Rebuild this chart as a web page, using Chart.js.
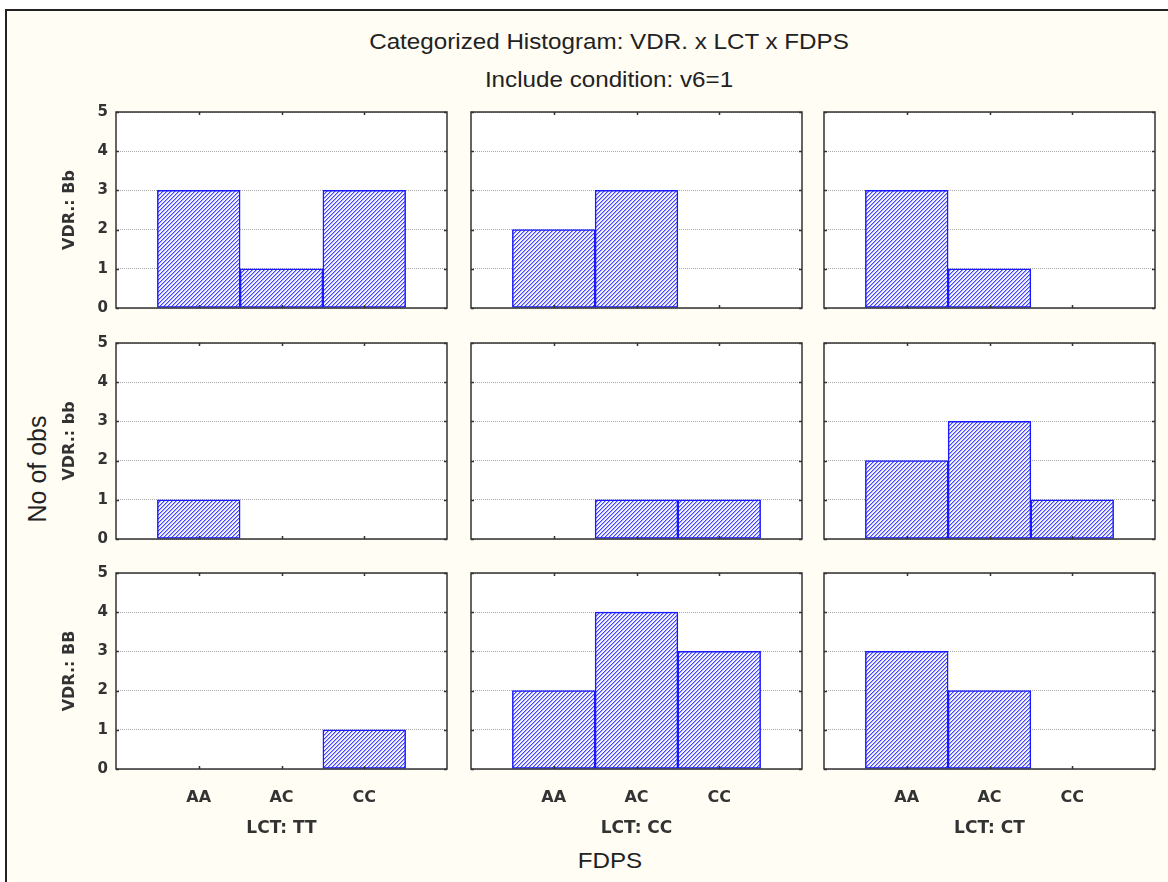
<!DOCTYPE html>
<html lang="en">
<head>
<meta charset="UTF-8">
<title>Categorized Histogram: VDR. x LCT x FDPS</title>
<script src="https://cdn.jsdelivr.net/npm/chart.js"></script>
<style>
  body { margin: 0; width: 1168px; height: 882px; overflow: hidden; position: relative; background: #fff;
         font-family: "Liberation Sans", Arial, sans-serif; }
  #frame { position: absolute; left: 5px; top: 9px; width: 1200px; height: 900px; background: #fffdf4;
           border-left: 2px solid #222; border-top: 2px solid #222; }
  canvas { position: absolute; }
  .txt { position: absolute; color: #222; white-space: nowrap; transform: translate(-50%, -50%) scaleX(1.1); }
</style>
</head>
<body>
<div id="frame"></div>
<div class="txt" style="left:609px; top:42px; font-size:22px;">Categorized Histogram: VDR. x LCT x FDPS</div>
<div class="txt" style="left:609px; top:80px; font-size:22px;">Include condition: v6=1</div>
<div class="txt" style="left:37px; top:469px; font-size:25px; transform: translate(-50%, -50%) rotate(-90deg);">No of obs</div>
<div class="txt" style="left:610px; top:861px; font-size:22px;">FDPS</div>

<script>
// categories
const fdps = ['AA', 'AC', 'CC'];
const lctGroups = ['LCT: TT', 'LCT: CC', 'LCT: CT'];
const vdrGroups = ['VDR.: Bb', 'VDR.: bb', 'VDR.: BB'];

// counts per panel, one array per LCT column (AA, AC, CC)
const bbUpperTT = [3, 1, 3], bbUpperCC = [2, 3, 0], bbUpperCT = [3, 1, 0];   // VDR Bb
const bbLowerTT = [1, 0, 0], bbLowerCC = [0, 1, 1], bbLowerCT = [2, 3, 1];   // VDR bb
const BBTT = [0, 0, 1], BBCC = [2, 4, 3], BBCT = [3, 2, 0];                  // VDR BB
const panels = [
  [bbUpperTT, bbUpperCC, bbUpperCT],
  [bbLowerTT, bbLowerCC, bbLowerCT],
  [BBTT, BBCC, BBCT]
];
const yMax = 5;

// panel geometry
const plotLeft = [116, 471, 824], plotW = 331;
const plotTop = [112, 343, 573], plotH = 196;
const axisW = [66, 4, 4], axisH = [12, 12, 72];
const padTop = 12, padRight = 4;

Chart.defaults.font.family = 'DejaVu Sans';
Chart.defaults.color = '#333';

function hatch(ctx) {
  const c = document.createElement('canvas');
  c.width = 4; c.height = 4;
  const g = c.getContext('2d');
  g.fillStyle = '#f4f4ff';
  g.fillRect(0, 0, 4, 4);
  for (let y = 0; y < 4; y++) {
    g.fillStyle = '#4444ff';
    g.fillRect(3 - y, y, 1, 1);
    g.fillStyle = '#a8a8ff';
    g.fillRect((4 - y) % 4, y, 1, 1);
  }
  return ctx.createPattern(c, 'repeat');
}

// fix axis box sizes, drop label overflow padding
function fixBox(s, w, h) {
  if (w !== null) s.width = w;
  if (h !== null) s.height = h;
  s.paddingTop = 0; s.paddingBottom = 0; s.paddingLeft = 0; s.paddingRight = 0;
}

// white plot area + frame with inward ticks
const framePlugin = {
  id: 'frame',
  beforeDraw(chart) {
    const a = chart.chartArea, ctx = chart.ctx;
    ctx.save();
    ctx.fillStyle = '#fff';
    ctx.fillRect(a.left, a.top, a.right - a.left, a.bottom - a.top);
    ctx.restore();
  },
  afterDraw(chart) {
    const a = chart.chartArea, ctx = chart.ctx;
    const xs = chart.scales.x, ys = chart.scales.y;
    ctx.save();
    ctx.strokeStyle = '#333';
    ctx.lineWidth = 1.5;
    ctx.strokeRect(a.left, a.top, a.right - a.left, a.bottom - a.top);
    ctx.beginPath();
    fdps.forEach((_, i) => {
      const px = Math.round(xs.getPixelForValue(i + 1)) + 0.5;
      ctx.moveTo(px, a.top); ctx.lineTo(px, a.top + 3);
      ctx.moveTo(px, a.bottom); ctx.lineTo(px, a.bottom - 3);
    });
    ys.ticks.forEach(t => {
      const py = Math.round(ys.getPixelForValue(t.value)) + 0.5;
      ctx.moveTo(a.left, py); ctx.lineTo(a.left + 3, py);
      ctx.moveTo(a.right, py); ctx.lineTo(a.right - 3, py);
    });
    ctx.stroke();
    ctx.restore();
  }
};

panels.forEach((row, r) => {
  row.forEach((counts, c) => {
    const canvas = document.createElement('canvas');
    const w = axisW[c] + plotW + padRight;
    const h = padTop + plotH + axisH[r];
    canvas.width = w; canvas.height = h;
    canvas.style.left = (plotLeft[c] - axisW[c]) + 'px';
    canvas.style.top = (plotTop[r] - padTop) + 'px';
    document.body.appendChild(canvas);
    const ctx = canvas.getContext('2d');
    const showX = r === panels.length - 1;
    const showY = c === 0;

    new Chart(ctx, {
      type: 'bar',
      data: {
        labels: ['', ...fdps, ''],
        datasets: [{
          data: [null, ...counts.map(v => v || null), null],
          backgroundColor: hatch(ctx),
          borderColor: '#1a1aff',
          borderWidth: 1.5,
          borderSkipped: false,
          barPercentage: 1,
          categoryPercentage: 1
        }]
      },
      options: {
        responsive: false,
        animation: false,
        devicePixelRatio: 1,
        layout: { padding: { top: padTop, right: padRight, left: 0, bottom: 0 } },
        plugins: { legend: { display: false }, tooltip: { enabled: false } },
        scales: {
          x: {
            type: 'category',
            offset: false,
            grid: { display: false },
            border: { display: false },
            ticks: { display: showX, padding: 11, maxRotation: 0, autoSkip: false,
                     font: { family: 'DejaVu Sans', size: 16, weight: 'bold' }, color: '#333' },
            title: { display: showX, text: lctGroups[c], color: '#333',
                     font: { family: 'DejaVu Sans', size: 17, weight: 'bold' }, padding: { top: 0, bottom: 2 } },
            afterFit: s => fixBox(s, null, axisH[r])
          },
          y: {
            min: 0,
            max: yMax,
            ticks: { display: showY, stepSize: 1, padding: 8,
                     font: { family: 'DejaVu Sans', size: 15, weight: 'bold' }, color: '#333' },
            grid: { color: '#a8a8a8', lineWidth: 1, drawTicks: false },
            border: { display: false, dash: [1, 1] },
            title: { display: showY, text: vdrGroups[r], color: '#333',
                     font: { family: 'DejaVu Sans', size: 16, weight: 'bold' }, padding: { top: 10, bottom: 0 } },
            afterFit: s => fixBox(s, axisW[c], null)
          }
        }
      },
      plugins: [framePlugin]
    });
  });
});
</script>
</body>
</html>
